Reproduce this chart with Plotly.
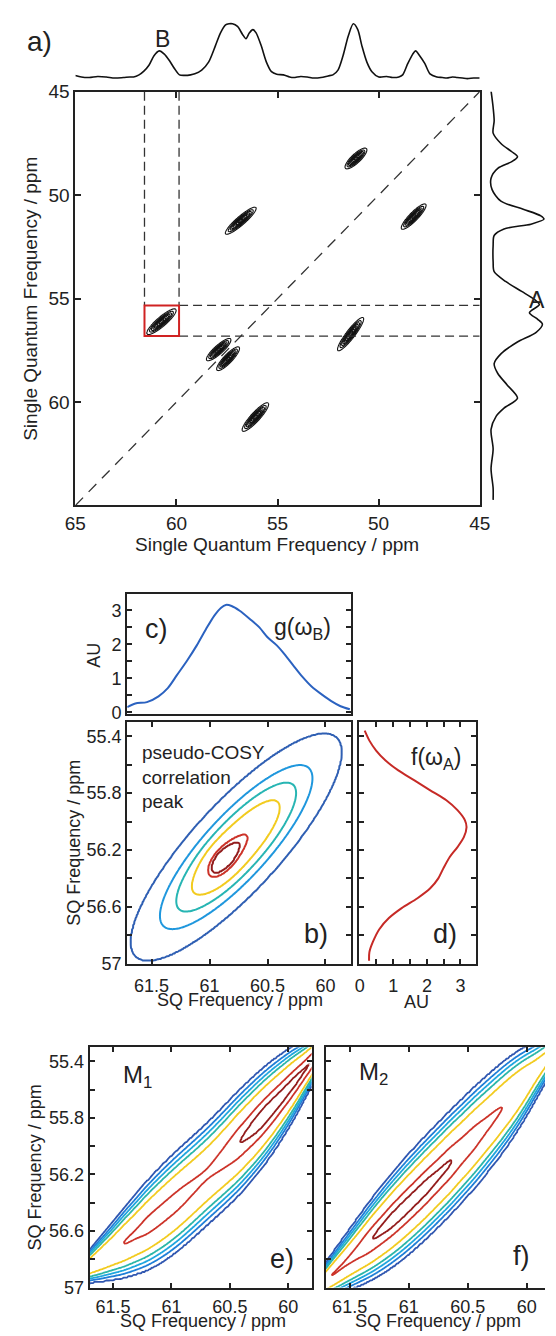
import numpy as np
import plotly.graph_objects as go

FIG_W, FIG_H = 556, 1336
FONT = "Liberation Sans, Arial, Helvetica, sans-serif"
INK = "#222222"

# ---------------- panel a: 1D projections ----------------
TOP_PPM = [65.0, 64.7, 64.31, 63.9, 63.47, 63.05, 62.62, 62.3, 62.12, 61.85, 61.61, 61.36, 61.11,
           60.85, 60.60, 60.35, 60.10, 59.85, 59.59, 59.3, 59.09, 58.75, 58.41, 58.07, 57.82, 57.57,
           57.4, 57.23, 56.98, 56.73, 56.56, 56.39, 56.22, 56.06, 55.81, 55.55, 55.30, 55.04, 54.71,
           54.4, 54.20, 53.85, 53.53, 53.2, 52.85, 52.5, 52.26, 52.01, 51.76, 51.50, 51.25, 51.03,
           50.83, 50.58, 50.33, 49.99, 49.6, 49.31, 49.0, 48.81, 48.56, 48.31, 48.17, 47.97, 47.71,
           47.46, 47.12, 46.85, 46.62, 46.35, 46.12, 45.85, 45.61, 45.3, 45.0]
TOP_INT = [0.03, 0.0, -0.01, 0.01, 0.0, -0.02, -0.01, 0.0, 0.0, 0.04, 0.11, 0.22, 0.40,
           0.49, 0.43, 0.31, 0.16, 0.04, 0.03, 0.04, 0.06, 0.13, 0.28, 0.59, 0.83, 0.98,
           1.0, 1.0, 0.95, 0.80, 0.72, 0.83, 0.89, 0.83, 0.59, 0.28, 0.10, 0.05, 0.04,
           0.0, -0.01, 0.01, 0.0, -0.02, -0.01, 0.02, 0.04, 0.13, 0.40, 0.77, 1.0, 0.89,
           0.59, 0.28, 0.10, 0.0, 0.01, -0.01, 0.0, 0.04, 0.25, 0.43, 0.49, 0.40, 0.25,
           0.06, 0.0, -0.01, -0.02, 0.0, -0.01, -0.02, -0.03, -0.02, -0.02]

RIGHT_PPM = [44.95, 45.76, 46.4, 47.0, 47.5, 47.9, 48.14, 48.38, 48.7, 49.18, 49.73, 50.29, 50.68,
             51.0, 51.16, 51.4, 51.63, 51.95, 52.43, 53.22, 53.7, 54.17, 54.65, 55.05, 55.29, 55.68,
             56.0, 56.24, 56.63, 57.11, 57.67, 58.14, 58.62, 59.17, 59.81, 60.29, 60.68, 61.32,
             62.27, 63.22, 64.17, 64.73]
RIGHT_INT = [-0.04, 0.0, 0.02, 0.0, 0.15, 0.36, 0.47, 0.36, 0.09, -0.04, -0.02, 0.15, 0.58,
             0.92, 0.98, 0.73, 0.21, 0.02, 0.0, 0.0, 0.02, 0.24, 0.55, 0.8, 0.89, 0.70,
             0.86, 0.95, 0.83, 0.46, 0.15, 0.02, 0.09, 0.27, 0.47, 0.21, 0.06, -0.04,
             0.0, -0.04, 0.0, 0.0]

# ---------------- panel a: 2D cross peaks (outer contour end points, ppm) ----------------
PEAK_F2_START = [61.45, 57.57, 51.64, 48.86, 52.01, 58.50, 57.99, 56.73]
PEAK_F1_START = [56.71, 51.87, 48.70, 51.63, 57.51, 57.98, 58.46, 61.40]
PEAK_F2_END = [60.03, 56.07, 50.60, 47.67, 50.76, 57.32, 56.90, 55.46]
PEAK_F1_END = [55.52, 50.60, 47.75, 50.44, 55.92, 56.95, 57.35, 60.05]
PEAK_HALF_WIDTH = [0.23, 0.21, 0.22, 0.21, 0.21, 0.21, 0.21, 0.22]
A_LEVEL_START, A_LEVEL_END, A_LEVEL_STEP = 0.10, 0.95, 0.12

# selected region (red box) and guide lines
BOX_F2 = [61.58, 59.87]
BOX_F1 = [55.33, 56.81]

# ---------------- panel b: pseudo-COSY peak (two rotated gaussians) ----------------
B_CENTER_X = [60.77, 60.90]
B_CENTER_Y = [56.18, 56.28]
B_AMPLITUDE = [1.0, 0.30]
B_SIGMA_ALONG = [0.50, 0.12]
B_SIGMA_ACROSS = [0.147, 0.07]
B_ANGLE_DEG = 40.6
B_LEVELS = [0.068, 0.244, 0.418, 0.63, 0.99, 1.07]
B_COLORS = ["#2f5fb3", "#1f97dd", "#27b5b3", "#f2cb1f", "#cc3329", "#921c1c"]

# ---------------- panels c, d: marginal projections ----------------
C_PPM = [61.71, 61.64, 61.54, 61.44, 61.36, 61.28, 61.19, 61.11, 61.03, 60.96, 60.90, 60.86, 60.81,
         60.74, 60.65, 60.57, 60.50, 60.42, 60.37, 60.28, 60.20, 60.12, 60.03, 59.95, 59.87, 59.79]
C_AU = [0.15, 0.26, 0.30, 0.47, 0.71, 1.10, 1.54, 1.97, 2.45, 2.84, 3.08, 3.16, 3.13,
        2.99, 2.74, 2.50, 2.21, 1.97, 1.78, 1.39, 1.05, 0.76, 0.52, 0.33, 0.18, 0.09]

D_AU = [0.15, 0.29, 0.49, 0.77, 1.15, 1.63, 2.10, 2.58, 2.91, 3.13, 3.18, 3.10, 2.91, 2.68,
        2.49, 2.34, 2.10, 1.72, 1.25, 0.87, 0.58, 0.39, 0.29, 0.28]
D_PPM = [55.36, 55.43, 55.50, 55.57, 55.64, 55.71, 55.78, 55.85, 55.92, 55.99, 56.04, 56.11, 56.18,
         56.25, 56.33, 56.40, 56.47, 56.54, 56.61, 56.68, 56.76, 56.85, 56.92, 56.98]

# ---------------- panels e, f: M1 / M2 ridges ----------------
RIDGE_LEVELS = [0.068, 0.108, 0.163, 0.236, 0.38, 0.727, 0.9]
RIDGE_COLORS = ["#2f56b0", "#1f7fd8", "#1fa6df", "#2bb6a8", "#f2cb1f", "#cc3329", "#921c1c"]
WIDTH_X = [62.0, 61.8, 61.6, 61.4, 61.2, 61.0, 60.8, 60.6, 60.4, 60.2, 60.0, 59.8, 59.6]

E_CENTER_X = [61.70, 61.55, 61.01, 60.46, 60.05, 59.80]
E_CENTER_Y = [56.87, 56.74, 56.42, 56.03, 55.63, 55.40]
E_PROFILE_X = [61.95, 61.75, 61.55, 61.36, 61.15, 60.95, 60.80, 60.68, 60.55, 60.40, 60.20, 60.00, 59.80, 59.60]
E_PROFILE_H = [0.55, 0.60, 0.67, 0.74, 0.80, 0.80, 0.76, 0.73, 0.80, 0.92, 0.99, 0.96, 0.90, 0.80]
E_WIDTH_S = [0.02, 0.035, 0.075, 0.115, 0.145, 0.16, 0.163, 0.165, 0.163, 0.15, 0.125, 0.075, 0.035]

F_CENTER_X = [61.70, 61.30, 60.76, 60.22, 59.95]
F_CENTER_Y = [56.95, 56.65, 56.20, 55.76, 55.48]
F_PROFILE_X = [61.95, 61.75, 61.62, 61.54, 61.45, 61.30, 61.10, 60.90, 60.70, 60.50, 60.32, 60.20,
               60.14, 60.05, 59.90, 59.70]
F_PROFILE_H = [0.65, 0.70, 0.745, 0.71, 0.80, 0.92, 0.97, 0.96, 0.92, 0.84, 0.77, 0.72,
               0.735, 0.62, 0.48, 0.38]
F_WIDTH_S = [0.02, 0.035, 0.08, 0.115, 0.14, 0.155, 0.16, 0.162, 0.16, 0.148, 0.12, 0.07, 0.035]


def px_x(px):
    return px / FIG_W


def px_y(py):
    return 1 - py / FIG_H


def xdom(a, b):
    return [a / FIG_W, min(b / FIG_W, 1.0)]


def ydom(top, bottom):
    return [1 - bottom / FIG_H, 1 - top / FIG_H]


def rotated_gauss(X, Y, cx, cy, ang, sa, sc):
    c, s = np.cos(ang), np.sin(ang)
    dx, dy = X - cx, Y - cy
    u = dx * c + dy * s
    v = -dx * s + dy * c
    return np.exp(-0.5 * ((u / sa) ** 2 + (v / sc) ** 2))


def kernel_profile(x, px, ph, bw=0.08):
    px = np.asarray(px)[None, :]
    ph = np.asarray(ph)[None, :]
    w = np.exp(-0.5 * ((x[:, None] - px) / bw) ** 2)
    return (w * ph).sum(axis=1) / w.sum(axis=1)


def ridge_surface(gx, gy, cx, cy, prof_x, prof_h, wid_x, wid_s):
    coef = np.polyfit(cx, cy, 2)
    yc = np.polyval(coef, gx)
    h = kernel_profile(gx, prof_x, prof_h, bw=0.08)
    sig = kernel_profile(gx, wid_x, wid_s, bw=0.12)
    X, Y = np.meshgrid(gx, gy)
    return h[None, :] * np.exp(-0.5 * ((Y - yc[None, :]) / sig[None, :]) ** 2)


def level_contour(gx, gy, Z, levels, colors, xa, ya, width):
    n = len(levels)
    lv = [float(Z.min()) - 1.0] + list(levels) + [float(Z.max()) + 1.0]
    idx = list(range(0, n + 2))
    Zt = np.interp(Z, lv, idx)
    scale = [[i / (n - 1), colors[i]] for i in range(n)]
    return go.Contour(
        x=np.round(gx, 3), y=np.round(gy, 3), z=np.round(Zt, 3),
        xaxis=xa, yaxis=ya, showscale=False, autocontour=False,
        contours=dict(start=1, end=n, size=1, coloring="lines"),
        colorscale=scale, zauto=False, zmin=1, zmax=n,
        line=dict(width=width, smoothing=1.0), hoverinfo="skip",
    )


fig = go.Figure()

# ---- panel a: cross peaks ----
for i in range(len(PEAK_F2_START)):
    x0, y0 = PEAK_F2_START[i], PEAK_F1_START[i]
    x1, y1 = PEAK_F2_END[i], PEAK_F1_END[i]
    cx, cy = (x0 + x1) / 2, (y0 + y1) / 2
    half_len = 0.5 * np.hypot(x1 - x0, y1 - y0)
    ang = np.arctan2(y1 - y0, x1 - x0)
    k = np.sqrt(2 * np.log(1 / A_LEVEL_START))
    gx = np.arange(cx - half_len - 0.4, cx + half_len + 0.4, 0.02)
    gy = np.arange(cy - half_len - 0.4, cy + half_len + 0.4, 0.02)
    X, Y = np.meshgrid(gx, gy)
    Z = rotated_gauss(X, Y, cx, cy, ang, half_len / k, PEAK_HALF_WIDTH[i] / k)
    fig.add_trace(go.Contour(
        x=np.round(gx, 3), y=np.round(gy, 3), z=np.round(Z, 3), xaxis="x", yaxis="y",
        showscale=False, autocontour=False,
        contours=dict(start=A_LEVEL_START, end=A_LEVEL_END, size=A_LEVEL_STEP, coloring="none"),
        line=dict(color="#111111", width=1.1), hoverinfo="skip"))

# ---- panel a: projections ----
fig.add_trace(go.Scatter(x=TOP_PPM, y=TOP_INT, mode="lines", xaxis="x2", yaxis="y2",
                         line=dict(color="#111111", width=1.6, shape="spline", smoothing=0.8),
                         hoverinfo="skip"))
fig.add_trace(go.Scatter(x=RIGHT_INT, y=RIGHT_PPM, mode="lines", xaxis="x3", yaxis="y3",
                         line=dict(color="#111111", width=1.6, shape="spline", smoothing=0.8),
                         hoverinfo="skip"))

# ---- panel b ----
gx = np.arange(59.55, 61.95, 0.01)
gy = np.arange(55.05, 57.25, 0.01)
X, Y = np.meshgrid(gx, gy)
ang_b = np.deg2rad(B_ANGLE_DEG)
ZB = sum(B_AMPLITUDE[i] * rotated_gauss(X, Y, B_CENTER_X[i], B_CENTER_Y[i], ang_b,
                                         B_SIGMA_ALONG[i], B_SIGMA_ACROSS[i])
         for i in range(len(B_CENTER_X)))
fig.add_trace(level_contour(gx, gy, ZB, B_LEVELS, B_COLORS, "x5", "y5", 2.0))

# ---- panel c and d ----
fig.add_trace(go.Scatter(x=C_PPM, y=C_AU, mode="lines", xaxis="x4", yaxis="y4",
                         line=dict(color="#2b62c0", width=2, shape="spline", smoothing=0.8),
                         hoverinfo="skip"))
fig.add_trace(go.Scatter(x=D_AU, y=D_PPM, mode="lines", xaxis="x6", yaxis="y6",
                         line=dict(color="#c62a26", width=2, shape="spline", smoothing=0.8),
                         hoverinfo="skip"))

# ---- panels e and f ----
ZE = ridge_surface(gx, gy, E_CENTER_X, E_CENTER_Y, E_PROFILE_X, E_PROFILE_H, WIDTH_X, E_WIDTH_S)
fig.add_trace(level_contour(gx, gy, ZE, RIDGE_LEVELS, RIDGE_COLORS, "x7", "y7", 1.8))
ZF = ridge_surface(gx, gy, F_CENTER_X, F_CENTER_Y, F_PROFILE_X, F_PROFILE_H, WIDTH_X, F_WIDTH_S)
fig.add_trace(level_contour(gx, gy, ZF, RIDGE_LEVELS, RIDGE_COLORS, "x8", "y8", 1.8))


def frame(**kw):
    d = dict(showline=True, linewidth=2, linecolor=INK, mirror="ticks", ticks="inside",
             ticklen=5, tickwidth=1.5, tickcolor=INK, showgrid=False, zeroline=False,
             tickfont=dict(size=18, color=INK, family=FONT), fixedrange=True)
    d.update(kw)
    return d


hidden = dict(visible=False, fixedrange=True, showgrid=False, zeroline=False)

SQ_TICKS = [61.5, 61.0, 60.5, 60.0]
SQ_TEXT = ["61.5", "61", "60.5", "60"]
SQY_TICKS = [55.4, 55.6, 55.8, 56.0, 56.2, 56.4, 56.6, 56.8, 57.0]
SQY_TEXT = ["55.4", "", "55.8", "", "56.2", "", "56.6", "", "57"]
AU_TICKS = [0, 0.5, 1, 1.5, 2, 2.5, 3]
AU_TEXT = ["0", "", "1", "", "2", "", "3"]

fig.update_layout(
    width=FIG_W, height=FIG_H, margin=dict(l=0, r=0, t=0, b=0),
    paper_bgcolor="white", plot_bgcolor="white", showlegend=False,
    font=dict(family=FONT, color=INK),
    xaxis=frame(domain=xdom(67, 488), range=[65, 45], anchor="y", ticklen=6,
                tickvals=[65, 60, 55, 50, 45], ticktext=["65", "60", "55", "50", "45"],
                tickfont=dict(size=19, color=INK, family=FONT)),
    yaxis=frame(domain=ydom(83, 503), range=[65, 45], anchor="x", ticklen=6,
                tickvals=[45, 50, 55, 60], ticktext=["45", "50", "55", "60"],
                tickfont=dict(size=19, color=INK, family=FONT)),
    xaxis2=dict(hidden, domain=xdom(67, 488), range=[65, 45], anchor="y2"),
    yaxis2=dict(hidden, domain=ydom(10, 76), range=[-0.148, 1.074], anchor="x2"),
    xaxis3=dict(hidden, domain=xdom(488, 556), range=[-0.259, 1.0], anchor="y3"),
    yaxis3=dict(hidden, domain=ydom(83, 503), range=[65, 45], anchor="x3"),
    xaxis4=frame(domain=xdom(121, 354), range=[61.71, 59.78], anchor="y4",
                 ticks="", showticklabels=False, mirror=True),
    yaxis4=frame(domain=ydom(593, 715), range=[-0.058, 3.478], anchor="x4",
                 tickvals=AU_TICKS, ticktext=AU_TEXT),
    xaxis5=frame(domain=xdom(121, 354), range=[61.71, 59.78], anchor="y5",
                 tickvals=SQ_TICKS, ticktext=SQ_TEXT, ticklabelstandoff=5),
    yaxis5=frame(domain=ydom(723, 968), range=[57.0, 55.3], anchor="x5",
                 tickvals=SQY_TICKS, ticktext=SQY_TEXT),
    xaxis6=frame(domain=xdom(362, 484), range=[-0.029, 3.457], anchor="y6",
                 tickvals=AU_TICKS, ticktext=AU_TEXT, ticklabelstandoff=5),
    yaxis6=frame(domain=ydom(723, 968), range=[57.0, 55.3], anchor="x6",
                 tickvals=SQY_TICKS, showticklabels=False),
    xaxis7=frame(domain=xdom(82, 313), range=[61.70, 59.80], anchor="y7",
                 tickvals=SQ_TICKS, ticktext=SQ_TEXT, ticklabelstandoff=2),
    yaxis7=frame(domain=ydom(1053, 1297), range=[57.0, 55.3], anchor="x7",
                 tickvals=SQY_TICKS, ticktext=SQY_TEXT),
    xaxis8=frame(domain=xdom(328, 556), range=[61.70, 59.845], anchor="y8",
                 tickvals=SQ_TICKS, ticktext=SQ_TEXT, ticklabelstandoff=2),
    yaxis8=frame(domain=ydom(1053, 1297), range=[57.0, 55.3], anchor="x8",
                 tickvals=SQY_TICKS, showticklabels=False, mirror=False),
)

# ---- guide lines and selection box in panel a ----
guide = dict(color="#333333", width=1.3, dash="9px,5px")
shapes = [
    dict(type="line", xref="x", yref="y", x0=65, y0=65, x1=45, y1=45,
         line=dict(color="#333333", width=1.3, dash="11px,8px")),
    dict(type="line", xref="x", yref="y", x0=BOX_F2[0], y0=45, x1=BOX_F2[0], y1=BOX_F1[0], line=guide),
    dict(type="line", xref="x", yref="y", x0=BOX_F2[1], y0=45, x1=BOX_F2[1], y1=BOX_F1[0], line=guide),
    dict(type="line", xref="x", yref="y", x0=BOX_F2[1], y0=BOX_F1[0], x1=45, y1=BOX_F1[0], line=guide),
    dict(type="line", xref="x", yref="y", x0=BOX_F2[1], y0=BOX_F1[1], x1=45, y1=BOX_F1[1], line=guide),
    dict(type="rect", xref="x", yref="y", x0=BOX_F2[0], y0=BOX_F1[0], x1=BOX_F2[1], y1=BOX_F1[1],
         line=dict(color="#d02222", width=2)),
]
fig.update_layout(shapes=shapes)


def label(text, px, py, size, anchor="center", angle=0, valign="middle", align="center"):
    return dict(text=text, x=px_x(px), y=px_y(py), xref="paper", yref="paper",
                xanchor=anchor, yanchor=valign, showarrow=False, textangle=angle, align=align,
                font=dict(size=size, color=INK, family=FONT))


annotations = [
    label("a)", 30, 32, 28),
    label("B", 158, 29, 23),
    label("A", 548, 294, 23),
    label("Single Quantum Frequency / ppm", 277, 543, 19),
    label("Single Quantum Frequency / ppm", 20, 293, 19, angle=-90),
    label("c)", 152, 628, 27),
    label("g(ω<sub>B</sub>)", 303, 628, 23),
    label("AU", 87, 655, 18, angle=-90),
    label("pseudo-COSY<br>correlation<br>peak", 134, 741, 19, anchor="left", valign="top", align="left"),
    label("b)", 318, 938, 27),
    label("SQ Frequency / ppm", 238, 1005, 18),
    label("SQ Frequency / ppm", 66, 845, 18, angle=-90),
    label("f(ω<sub>A</sub>)", 443, 760, 23),
    label("d)", 452, 938, 27),
    label("AU", 422, 1007, 18),
    label("M<sub>1</sub>", 132, 1083, 24),
    label("e)", 282, 1268, 27),
    label("M<sub>2</sub>", 377, 1080, 24),
    label("f)", 532, 1265, 27),
    label("SQ Frequency / ppm", 200, 1331, 18),
    label("SQ Frequency / ppm", 445, 1331, 18),
    label("SQ Frequency / ppm", 25, 1175, 18, angle=-90),
]
fig.update_layout(annotations=annotations)

fig.write_html("out.html")
